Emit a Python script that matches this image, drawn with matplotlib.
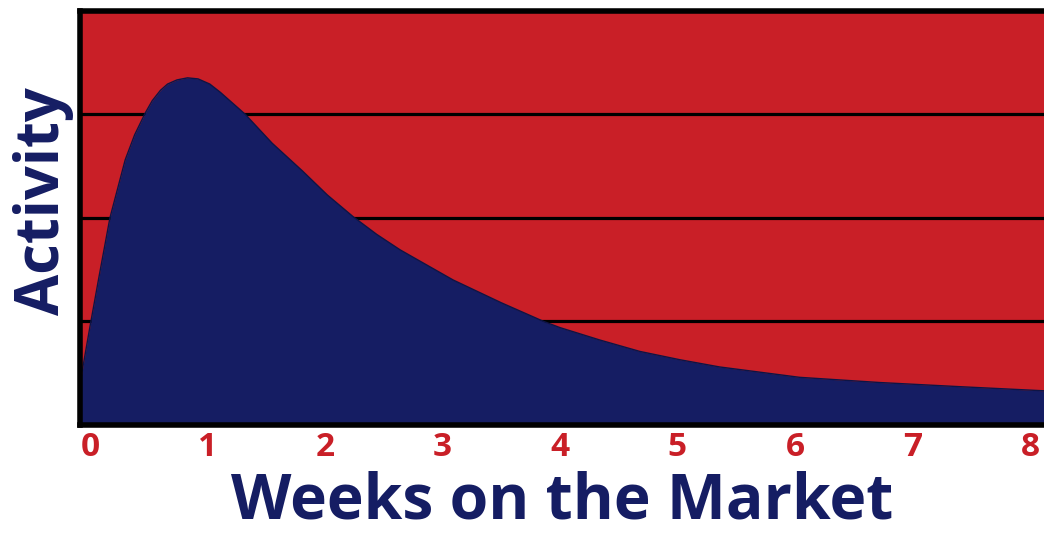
import matplotlib
matplotlib.use("Agg")
import matplotlib.pyplot as plt

# activity curve over weeks listed on the market
weeks = [-0.085, 0.0, 0.08, 0.17, 0.30, 0.38, 0.47, 0.53, 0.60, 0.66, 0.74,
         0.83, 0.92, 1.02, 1.11, 1.20, 1.32, 1.55, 1.81, 2.02, 2.24, 2.44,
         2.64, 3.09, 3.50, 3.86, 4.00, 4.34, 4.68, 5.02, 5.36, 5.70, 6.04,
         6.72, 7.40, 8.12]
activity = [0.40, 0.95, 1.45, 2.00, 2.56, 2.80, 3.01, 3.13, 3.23, 3.29, 3.33,
            3.35, 3.34, 3.29, 3.21, 3.12, 3.00, 2.72, 2.45, 2.22, 2.01, 1.84,
            1.69, 1.40, 1.18, 1.00, 0.94, 0.82, 0.71, 0.63, 0.56, 0.51, 0.46,
            0.41, 0.37, 0.33]
week_ticks = [0, 1, 2, 3, 4, 5, 6, 7, 8]
grid_levels = [1, 2, 3]

RED = '#C91F27'
NAVY = '#151D63'

plt.rcParams['font.family'] = ['Open Sans', 'DejaVu Sans']

fig = plt.figure(figsize=(10.44, 5.34), dpi=100)
ax = fig.add_axes([80 / 1044, 109 / 534, 964 / 1044, 414.5 / 534])
ax.set_facecolor(RED)

for level in grid_levels:
    ax.axhline(level, color='black', lw=2.3, zorder=1)

ax.fill_between(weeks, activity, 0, color=NAVY, lw=0, zorder=2)
ax.plot(weeks, activity, color='#0E1445', lw=1.0, zorder=3)

ax.set_xlim(-0.085, 8.12)
ax.set_ylim(0, 4)

for side in ['left', 'top', 'bottom']:
    ax.spines[side].set_linewidth(4.0)
    ax.spines[side].set_color('black')
    ax.spines[side].set_zorder(5)
ax.spines['right'].set_visible(False)

ax.set_xticks(week_ticks)
ax.set_xticklabels([str(w) for w in week_ticks], color=RED,
                   fontsize=24, fontweight='bold')
ax.tick_params(axis='x', length=0, pad=4)
ax.set_yticks([])

ax.set_xlabel('Weeks on the Market', color=NAVY, fontsize=45,
              fontweight='bold', labelpad=5)
ax.set_ylabel('Activity', color=NAVY, fontsize=43, fontweight='bold')
ax.yaxis.set_label_coords(-0.006, 0.54)

fig.savefig('out.png', dpi=100, facecolor='white')
plt.close(fig)
